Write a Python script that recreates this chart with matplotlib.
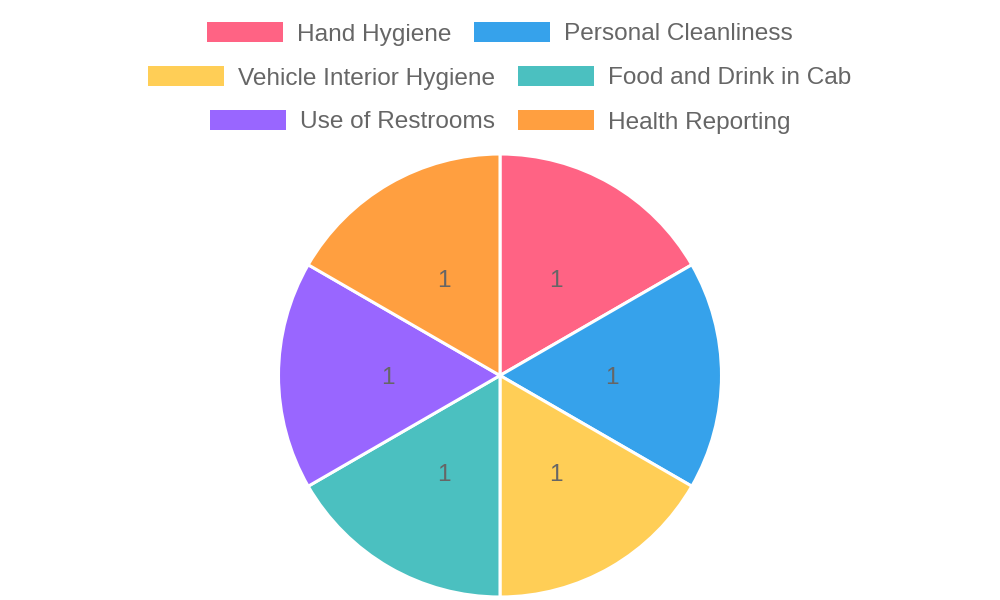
import matplotlib
matplotlib.use('Agg')
import matplotlib.pyplot as plt
from matplotlib.patches import Rectangle
import numpy as np

# data
labels = ['Hand Hygiene', 'Personal Cleanliness', 'Vehicle Interior Hygiene',
          'Food and Drink in Cab', 'Use of Restrooms', 'Health Reporting']
values = [1, 1, 1, 1, 1, 1]
colors = ['#FF6384', '#36A2EB', '#FFCE56', '#4BC0C0', '#9966FF', '#FF9F40']
legend_rows = [[0, 1], [2, 3], [4, 5]]

plt.rcParams['font.family'] = ['Liberation Sans', 'DejaVu Sans']
text_color = '#666666'
fsize = 17.6

fig = plt.figure(figsize=(10, 6), dpi=100)
W, H = 1000, 600

# pie: center (500, 375.5), radius ~221 px
cx, cy, r = 500, 375.5, 221.5
ax = fig.add_axes([(cx - r) / W, (H - cy - r) / H, 2 * r / W, 2 * r / H])
wedges, _ = ax.pie(values, colors=colors, startangle=90, counterclock=False,
                   radius=1, wedgeprops=dict(edgecolor='white', linewidth=2.2))
ax.set_xlim(-1, 1)
ax.set_ylim(-1, 1)
ax.set_aspect('equal')
ax.axis('off')

for w, v in zip(wedges, values):
    ang = np.deg2rad((w.theta1 + w.theta2) / 2)
    ax.text(0.505 * np.cos(ang), 0.505 * np.sin(ang), str(v), ha='center',
            va='center_baseline', fontsize=fsize, color=text_color)

# legend, drawn by hand in pixel coordinates
fig.canvas.draw()
renderer = fig.canvas.get_renderer()
box_w, box_h, gap_txt, gap_item = 76, 20, 14, 23
row_y = [32, 76, 120]
for row, y in zip(legend_rows, row_y):
    widths = []
    for i in row:
        t = fig.text(0, 0, labels[i], fontsize=fsize)
        widths.append(t.get_window_extent(renderer).width)
        t.remove()
    total = sum(box_w + gap_txt + w for w in widths) + gap_item * (len(row) - 1)
    x = 500 - total / 2
    for i, w in zip(row, widths):
        fig.patches.append(Rectangle((x / W, (H - y - box_h / 2) / H), box_w / W, box_h / H,
                                     transform=fig.transFigure, facecolor=colors[i],
                                     edgecolor='none'))
        fig.text((x + box_w + gap_txt) / W, (H - y) / H, labels[i], fontsize=fsize,
                 color=text_color, ha='left', va='center_baseline')
        x += box_w + gap_txt + w + gap_item

fig.savefig('out.png', dpi=100, facecolor='white')
